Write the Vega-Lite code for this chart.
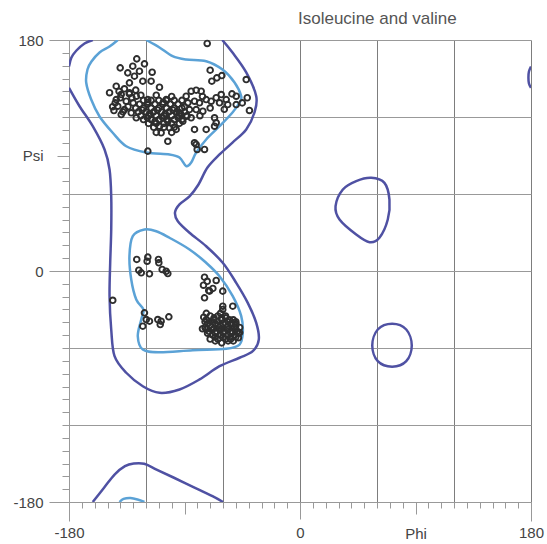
{
  "$schema": "https://vega.github.io/schema/vega-lite/v6.json",
  "autosize": {"type": "none"},
  "padding": {"left": 69, "top": 40, "right": 16, "bottom": 42},
  "width": 462,
  "height": 462,
  "background": "white",
  "title": {
    "text": "Isoleucine and valine",
    "anchor": "start",
    "frame": "group",
    "dx": 229,
    "offset": 5,
    "font": "Liberation Sans",
    "fontSize": 17,
    "fontWeight": "normal",
    "color": "#555555"
  },
  "config": {
    "view": {"stroke": null},
    "axis": {
      "labelFont": "Liberation Sans",
      "labelFontSize": 15,
      "labelColor": "#444444",
      "labelOverlap": false,
      "labelFlush": false,
      "labelBound": false,
      "domainColor": "#999999",
      "tickColor": "#999999",
      "gridWidth": 1,
      "title": null
    }
  },
  "datasets": {
    "paths": [
      {"seg": "A", "i": 0, "phi": -180, "psi": 142.7, "lvl": "outer"},
      {"seg": "A", "i": 1, "phi": -171.8, "psi": 128.4, "lvl": "outer"},
      {"seg": "A", "i": 2, "phi": -161.5, "psi": 112.8, "lvl": "outer"},
      {"seg": "A", "i": 3, "phi": -152.3, "psi": 94.7, "lvl": "outer"},
      {"seg": "A", "i": 4, "phi": -148.4, "psi": 79.1, "lvl": "outer"},
      {"seg": "A", "i": 5, "phi": -147.1, "psi": 58.3, "lvl": "outer"},
      {"seg": "A", "i": 6, "phi": -147.1, "psi": 32.3, "lvl": "outer"},
      {"seg": "A", "i": 7, "phi": -147.9, "psi": 6.4, "lvl": "outer"},
      {"seg": "A", "i": 8, "phi": -148.4, "psi": -19.6, "lvl": "outer"},
      {"seg": "A", "i": 9, "phi": -147.1, "psi": -45.6, "lvl": "outer"},
      {"seg": "A", "i": 10, "phi": -144.5, "psi": -66.4, "lvl": "outer"},
      {"seg": "A", "i": 11, "phi": -135.4, "psi": -79.3, "lvl": "outer"},
      {"seg": "A", "i": 12, "phi": -122.5, "psi": -89.8, "lvl": "outer"},
      {"seg": "A", "i": 13, "phi": -109.5, "psi": -94.9, "lvl": "outer"},
      {"seg": "A", "i": 14, "phi": -93.9, "psi": -92.3, "lvl": "outer"},
      {"seg": "A", "i": 15, "phi": -78.3, "psi": -84.5, "lvl": "outer"},
      {"seg": "A", "i": 16, "phi": -62.7, "psi": -74.2, "lvl": "outer"},
      {"seg": "A", "i": 17, "phi": -47.1, "psi": -67.6, "lvl": "outer"},
      {"seg": "A", "i": 18, "phi": -36.8, "psi": -62.5, "lvl": "outer"},
      {"seg": "A", "i": 19, "phi": -32.1, "psi": -53.4, "lvl": "outer"},
      {"seg": "A", "i": 20, "phi": -34.1, "psi": -40.4, "lvl": "outer"},
      {"seg": "A", "i": 21, "phi": -40.7, "psi": -24.8, "lvl": "outer"},
      {"seg": "A", "i": 22, "phi": -49.7, "psi": -9.2, "lvl": "outer"},
      {"seg": "A", "i": 23, "phi": -60.2, "psi": 6.4, "lvl": "outer"},
      {"seg": "A", "i": 24, "phi": -73.1, "psi": 19.3, "lvl": "outer"},
      {"seg": "A", "i": 25, "phi": -86.1, "psi": 29.8, "lvl": "outer"},
      {"seg": "A", "i": 26, "phi": -95.2, "psi": 38.8, "lvl": "outer"},
      {"seg": "A", "i": 27, "phi": -97.4, "psi": 45.6, "lvl": "outer"},
      {"seg": "A", "i": 28, "phi": -93.9, "psi": 51.9, "lvl": "outer"},
      {"seg": "A", "i": 29, "phi": -86.1, "psi": 58.1, "lvl": "outer"},
      {"seg": "A", "i": 30, "phi": -79.1, "psi": 67.4, "lvl": "outer"},
      {"seg": "A", "i": 31, "phi": -72.1, "psi": 80.6, "lvl": "outer"},
      {"seg": "A", "i": 32, "phi": -62.7, "psi": 90.8, "lvl": "outer"},
      {"seg": "A", "i": 33, "phi": -52.6, "psi": 100.1, "lvl": "outer"},
      {"seg": "A", "i": 34, "phi": -41.9, "psi": 110.3, "lvl": "outer"},
      {"seg": "A", "i": 35, "phi": -35.5, "psi": 123.5, "lvl": "outer"},
      {"seg": "A", "i": 36, "phi": -34.1, "psi": 136.2, "lvl": "outer"},
      {"seg": "A", "i": 37, "phi": -41.9, "psi": 154.7, "lvl": "outer"},
      {"seg": "A", "i": 38, "phi": -52.6, "psi": 170.2, "lvl": "outer"},
      {"seg": "A", "i": 39, "phi": -60.6, "psi": 180, "lvl": "outer"},
      {"seg": "B", "i": 0, "phi": -161.5, "psi": -180, "lvl": "outer"},
      {"seg": "B", "i": 1, "phi": -152.7, "psi": -168.9, "lvl": "outer"},
      {"seg": "B", "i": 2, "phi": -144.5, "psi": -158.6, "lvl": "outer"},
      {"seg": "B", "i": 3, "phi": -136.4, "psi": -152.1, "lvl": "outer"},
      {"seg": "B", "i": 4, "phi": -129.5, "psi": -150, "lvl": "outer"},
      {"seg": "B", "i": 5, "phi": -121.4, "psi": -150.2, "lvl": "outer"},
      {"seg": "B", "i": 6, "phi": -111.8, "psi": -154.7, "lvl": "outer"},
      {"seg": "B", "i": 7, "phi": -98.2, "psi": -161.1, "lvl": "outer"},
      {"seg": "B", "i": 8, "phi": -81.8, "psi": -168.9, "lvl": "outer"},
      {"seg": "B", "i": 9, "phi": -68.2, "psi": -175.5, "lvl": "outer"},
      {"seg": "B", "i": 10, "phi": -60, "psi": -180, "lvl": "outer"},
      {"seg": "C", "i": 0, "phi": -161.4, "psi": 180, "lvl": "outer"},
      {"seg": "C", "i": 1, "phi": -167.9, "psi": 177.3, "lvl": "outer"},
      {"seg": "C", "i": 2, "phi": -174.2, "psi": 171.8, "lvl": "outer"},
      {"seg": "C", "i": 3, "phi": -178.1, "psi": 166.3, "lvl": "outer"},
      {"seg": "C", "i": 4, "phi": -180, "psi": 159.3, "lvl": "outer"},
      {"seg": "D", "i": 0, "phi": 180, "psi": 159.3, "lvl": "outer"},
      {"seg": "D", "i": 1, "phi": 178.4, "psi": 155.4, "lvl": "outer"},
      {"seg": "D", "i": 2, "phi": 178, "psi": 150.8, "lvl": "outer"},
      {"seg": "D", "i": 3, "phi": 178.4, "psi": 146.1, "lvl": "outer"},
      {"seg": "D", "i": 4, "phi": 180, "psi": 142.7, "lvl": "outer"},
      {"seg": "E", "i": 0, "phi": -142, "psi": 180, "lvl": "inner"},
      {"seg": "E", "i": 1, "phi": -148.4, "psi": 174.9, "lvl": "inner"},
      {"seg": "E", "i": 2, "phi": -156.2, "psi": 170.3, "lvl": "inner"},
      {"seg": "E", "i": 3, "phi": -162.5, "psi": 163.2, "lvl": "inner"},
      {"seg": "E", "i": 4, "phi": -165.6, "psi": 157, "lvl": "inner"},
      {"seg": "E", "i": 5, "phi": -166.6, "psi": 146.9, "lvl": "inner"},
      {"seg": "E", "i": 6, "phi": -162.7, "psi": 133.6, "lvl": "inner"},
      {"seg": "E", "i": 7, "phi": -156.2, "psi": 120.4, "lvl": "inner"},
      {"seg": "E", "i": 8, "phi": -146.1, "psi": 107.9, "lvl": "inner"},
      {"seg": "E", "i": 9, "phi": -135.4, "psi": 97.2, "lvl": "inner"},
      {"seg": "E", "i": 10, "phi": -119.8, "psi": 92.3, "lvl": "inner"},
      {"seg": "E", "i": 11, "phi": -101.7, "psi": 90.8, "lvl": "inner"},
      {"seg": "E", "i": 12, "phi": -93.9, "psi": 88.4, "lvl": "inner"},
      {"seg": "E", "i": 13, "phi": -88.7, "psi": 81.7, "lvl": "inner"},
      {"seg": "E", "i": 14, "phi": -84.8, "psi": 84.5, "lvl": "inner"},
      {"seg": "E", "i": 15, "phi": -80.9, "psi": 92.3, "lvl": "inner"},
      {"seg": "E", "i": 16, "phi": -73.1, "psi": 102.5, "lvl": "inner"},
      {"seg": "E", "i": 17, "phi": -62.7, "psi": 112.8, "lvl": "inner"},
      {"seg": "E", "i": 18, "phi": -52.6, "psi": 123.5, "lvl": "inner"},
      {"seg": "E", "i": 19, "phi": -47.1, "psi": 131.3, "lvl": "inner"},
      {"seg": "E", "i": 20, "phi": -45.8, "psi": 136.2, "lvl": "inner"},
      {"seg": "E", "i": 21, "phi": -51, "psi": 146.9, "lvl": "inner"},
      {"seg": "E", "i": 22, "phi": -60.4, "psi": 157, "lvl": "inner"},
      {"seg": "E", "i": 23, "phi": -73.1, "psi": 163.5, "lvl": "inner"},
      {"seg": "E", "i": 24, "phi": -88.7, "psi": 164.8, "lvl": "inner"},
      {"seg": "E", "i": 25, "phi": -99.3, "psi": 167.4, "lvl": "inner"},
      {"seg": "E", "i": 26, "phi": -109.5, "psi": 174.2, "lvl": "inner"},
      {"seg": "E", "i": 27, "phi": -119.8, "psi": 180, "lvl": "inner"},
      {"seg": "F", "i": 0, "phi": -140.6, "psi": -180, "lvl": "inner"},
      {"seg": "F", "i": 1, "phi": -137.5, "psi": -177.6, "lvl": "inner"},
      {"seg": "F", "i": 2, "phi": -132.1, "psi": -176.9, "lvl": "inner"},
      {"seg": "F", "i": 3, "phi": -126.6, "psi": -178, "lvl": "inner"},
      {"seg": "F", "i": 4, "phi": -121.2, "psi": -180, "lvl": "inner"}
    ],
    "loops": [
      {"seg": "G", "i": 0, "phi": -121.2, "psi": 32.3, "lvl": "inner"},
      {"seg": "G", "i": 1, "phi": -130.3, "psi": 27.1, "lvl": "inner"},
      {"seg": "G", "i": 2, "phi": -132.9, "psi": 11.5, "lvl": "inner"},
      {"seg": "G", "i": 3, "phi": -131.5, "psi": -6.6, "lvl": "inner"},
      {"seg": "G", "i": 4, "phi": -127.6, "psi": -22.2, "lvl": "inner"},
      {"seg": "G", "i": 5, "phi": -122, "psi": -30, "lvl": "inner"},
      {"seg": "G", "i": 6, "phi": -123.7, "psi": -37.8, "lvl": "inner"},
      {"seg": "G", "i": 7, "phi": -126.4, "psi": -50.8, "lvl": "inner"},
      {"seg": "G", "i": 8, "phi": -122.5, "psi": -61.2, "lvl": "inner"},
      {"seg": "G", "i": 9, "phi": -109.5, "psi": -63.3, "lvl": "inner"},
      {"seg": "G", "i": 10, "phi": -83.5, "psi": -61.7, "lvl": "inner"},
      {"seg": "G", "i": 11, "phi": -57.5, "psi": -60.6, "lvl": "inner"},
      {"seg": "G", "i": 12, "phi": -47.1, "psi": -57.3, "lvl": "inner"},
      {"seg": "G", "i": 13, "phi": -44.6, "psi": -48.2, "lvl": "inner"},
      {"seg": "G", "i": 14, "phi": -45.8, "psi": -35.2, "lvl": "inner"},
      {"seg": "G", "i": 15, "phi": -52.4, "psi": -19.6, "lvl": "inner"},
      {"seg": "G", "i": 16, "phi": -62.7, "psi": -4.1, "lvl": "inner"},
      {"seg": "G", "i": 17, "phi": -73.1, "psi": 6.4, "lvl": "inner"},
      {"seg": "G", "i": 18, "phi": -86.1, "psi": 16.8, "lvl": "inner"},
      {"seg": "G", "i": 19, "phi": -101.7, "psi": 25.9, "lvl": "inner"},
      {"seg": "G", "i": 20, "phi": -112, "psi": 31, "lvl": "inner"},
      {"seg": "H", "i": 0, "phi": 55.5, "psi": 72.6, "lvl": "outer"},
      {"seg": "H", "i": 1, "phi": 65.8, "psi": 68.7, "lvl": "outer"},
      {"seg": "H", "i": 2, "phi": 69.7, "psi": 55.7, "lvl": "outer"},
      {"seg": "H", "i": 3, "phi": 68.4, "psi": 40.1, "lvl": "outer"},
      {"seg": "H", "i": 4, "phi": 61.9, "psi": 25.9, "lvl": "outer"},
      {"seg": "H", "i": 5, "phi": 54.2, "psi": 22.4, "lvl": "outer"},
      {"seg": "H", "i": 6, "phi": 43.8, "psi": 28.4, "lvl": "outer"},
      {"seg": "H", "i": 7, "phi": 30.8, "psi": 40.1, "lvl": "outer"},
      {"seg": "H", "i": 8, "phi": 27.7, "psi": 50.5, "lvl": "outer"},
      {"seg": "H", "i": 9, "phi": 33.4, "psi": 63.5, "lvl": "outer"},
      {"seg": "H", "i": 10, "phi": 43.8, "psi": 70, "lvl": "outer"},
      {"seg": "I", "i": 0, "phi": 71.8, "psi": -41.1, "lvl": "outer"},
      {"seg": "I", "i": 1, "phi": 82.8, "psi": -45.6, "lvl": "outer"},
      {"seg": "I", "i": 2, "phi": 87.1, "psi": -58, "lvl": "outer"},
      {"seg": "I", "i": 3, "phi": 82.8, "psi": -70.3, "lvl": "outer"},
      {"seg": "I", "i": 4, "phi": 71.8, "psi": -74.6, "lvl": "outer"},
      {"seg": "I", "i": 5, "phi": 60.6, "psi": -70.3, "lvl": "outer"},
      {"seg": "I", "i": 6, "phi": 56.3, "psi": -58, "lvl": "outer"},
      {"seg": "I", "i": 7, "phi": 60.6, "psi": -45.6, "lvl": "outer"}
    ],
    "residues": [
      {"phi": -72.3, "psi": 177.3}, {"phi": -127.2, "psi": 165.3}, {"phi": -121.2, "psi": 161.4}, {"phi": -140.1, "psi": 158.3},
      {"phi": -130.3, "psi": 159.6}, {"phi": -125.1, "psi": 155.7}, {"phi": -115.2, "psi": 154.9}, {"phi": -134.2, "psi": 154.4},
      {"phi": -129, "psi": 151.8}, {"phi": -122.5, "psi": 147.9}, {"phi": -116, "psi": 147.9}, {"phi": -132.9, "psi": 146.6},
      {"phi": -109.5, "psi": 143.2}, {"phi": -143.2, "psi": 144}, {"phi": -136.8, "psi": 142}, {"phi": -148.4, "psi": 138.9},
      {"phi": -139.3, "psi": 137.5}, {"phi": -132.9, "psi": 138.9}, {"phi": -127.6, "psi": 136.2}, {"phi": -143.2, "psi": 133.6},
      {"phi": -135.4, "psi": 132.3}, {"phi": -142, "psi": 128.4}, {"phi": -136.8, "psi": 125.8}, {"phi": -139.3, "psi": 121.9},
      {"phi": -131.5, "psi": 123.3}, {"phi": -127.6, "psi": 119.4}, {"phi": -104.3, "psi": 133.6}, {"phi": -118.6, "psi": 133.6},
      {"phi": -109.5, "psi": 112.8}, {"phi": -101.7, "psi": 111.6}, {"phi": -96.5, "psi": 110.3}, {"phi": -108.2, "psi": 107.7},
      {"phi": -103, "psi": 101.1}, {"phi": -118.6, "psi": 93.4}, {"phi": -88.7, "psi": 136.2}, {"phi": -84.8, "psi": 140.1},
      {"phi": -80.9, "psi": 140.9}, {"phi": -77, "psi": 140.1}, {"phi": -87.4, "psi": 131.1}, {"phi": -82.2, "psi": 132.3},
      {"phi": -78.3, "psi": 131.1}, {"phi": -73.1, "psi": 133.6}, {"phi": -69.2, "psi": 132.3}, {"phi": -65.3, "psi": 135},
      {"phi": -61.4, "psi": 137.5}, {"phi": -57.5, "psi": 133.6}, {"phi": -62.7, "psi": 131.1}, {"phi": -56.3, "psi": 129.7},
      {"phi": -49.7, "psi": 136.2}, {"phi": -49.7, "psi": 129.7}, {"phi": -41.1, "psi": 135}, {"phi": -39.4, "psi": 125.1},
      {"phi": -41.9, "psi": 149.2}, {"phi": -70, "psi": 156.5}, {"phi": -68.7, "psi": 147.9}, {"phi": -64.8, "psi": 150.5},
      {"phi": -60.9, "psi": 152.3}, {"phi": -86.1, "psi": 125.8}, {"phi": -80.9, "psi": 125.8}, {"phi": -84.8, "psi": 119.4},
      {"phi": -75.7, "psi": 124.5}, {"phi": -66.6, "psi": 119.4}, {"phi": -73.1, "psi": 110.3}, {"phi": -82.2, "psi": 110.3},
      {"phi": -66.6, "psi": 112.8}, {"phi": -65.3, "psi": 115.5}, {"phi": -82.2, "psi": 99.9}, {"phi": -80.9, "psi": 98.6},
      {"phi": -80.1, "psi": 94.7}, {"phi": -74.4, "psi": 94.7}, {"phi": -88.7, "psi": 120.6}, {"phi": -93.9, "psi": 123.3},
      {"phi": -91.3, "psi": 116.7},
      {"phi": -122, "psi": 133}, {"phi": -116, "psi": 133}, {"phi": -110, "psi": 133}, {"phi": -104, "psi": 133}, {"phi": -98, "psi": 133},
      {"phi": -125, "psi": 130}, {"phi": -119, "psi": 130}, {"phi": -113, "psi": 130}, {"phi": -107, "psi": 130}, {"phi": -101, "psi": 130}, {"phi": -95, "psi": 130},
      {"phi": -128, "psi": 127}, {"phi": -122, "psi": 127}, {"phi": -116, "psi": 127}, {"phi": -110, "psi": 127}, {"phi": -104, "psi": 127}, {"phi": -98, "psi": 127}, {"phi": -92, "psi": 127},
      {"phi": -126, "psi": 124}, {"phi": -120, "psi": 124}, {"phi": -114, "psi": 124}, {"phi": -108, "psi": 124}, {"phi": -102, "psi": 124}, {"phi": -96, "psi": 124}, {"phi": -90, "psi": 124},
      {"phi": -124, "psi": 121}, {"phi": -118, "psi": 121}, {"phi": -112, "psi": 121}, {"phi": -106, "psi": 121}, {"phi": -100, "psi": 121}, {"phi": -94, "psi": 121}, {"phi": -88, "psi": 121},
      {"phi": -122, "psi": 118}, {"phi": -116, "psi": 118}, {"phi": -110, "psi": 118}, {"phi": -104, "psi": 118}, {"phi": -98, "psi": 118}, {"phi": -92, "psi": 118},
      {"phi": -118, "psi": 115}, {"phi": -112, "psi": 115}, {"phi": -106, "psi": 115}, {"phi": -100, "psi": 115}, {"phi": -94, "psi": 115},
      {"phi": -114, "psi": 112}, {"phi": -106, "psi": 112}, {"phi": -98, "psi": 112}, {"phi": -112, "psi": 108}, {"phi": -100, "psi": 108},
      {"phi": -118.5, "psi": 131.5}, {"phi": -106.5, "psi": 131.5}, {"phi": -123, "psi": 125.5}, {"phi": -111, "psi": 125.5}, {"phi": -99, "psi": 125.5},
      {"phi": -119, "psi": 119.5}, {"phi": -107, "psi": 119.5}, {"phi": -95, "psi": 119.5}, {"phi": -117, "psi": 122.5}, {"phi": -105, "psi": 122.5},
      {"phi": -93, "psi": 122.5}, {"phi": -113, "psi": 116.5}, {"phi": -103, "psi": 116.5},
      {"phi": -144, "psi": 131}, {"phi": -140, "psi": 135}, {"phi": -134, "psi": 128}, {"phi": -130, "psi": 131}, {"phi": -145, "psi": 125},
      {"phi": -138, "psi": 124}, {"phi": -133, "psi": 138}, {"phi": -128, "psi": 141},
      {"phi": -127.2, "psi": 9}, {"phi": -118.6, "psi": 10.8}, {"phi": -119.1, "psi": 7.6}, {"phi": -110.3, "psi": 9}, {"phi": -110, "psi": 6.4},
      {"phi": -125.6, "psi": 0.6}, {"phi": -123.7, "psi": -1.4}, {"phi": -117.3, "psi": -2.2}, {"phi": -107.4, "psi": 1.2}, {"phi": -104.3, "psi": -0.2},
      {"phi": -103, "psi": -2}, {"phi": -145.9, "psi": -22.8}, {"phi": -121.2, "psi": -32.6}, {"phi": -119.8, "psi": -37.8}, {"phi": -117.3, "psi": -39.1},
      {"phi": -122.5, "psi": -43}, {"phi": -110.8, "psi": -37.8}, {"phi": -108.2, "psi": -39.1}, {"phi": -108.9, "psi": -41.7}, {"phi": -102.2, "psi": -35.7},
      {"phi": -74.4, "psi": -4.8}, {"phi": -65.3, "psi": -7.4}, {"phi": -75.2, "psi": -11.1}, {"phi": -71.1, "psi": -15.2}, {"phi": -67.9, "psi": -13.6},
      {"phi": -74.4, "psi": -20.9}, {"phi": -60.2, "psi": -15.7}, {"phi": -60.2, "psi": -27.4}, {"phi": -52.4, "psi": -27.4}, {"phi": -60.2, "psi": -30},
      {"phi": -72.3, "psi": -8}, {"phi": -70.5, "psi": -15.7},
      {"phi": -70, "psi": -35}, {"phi": -64, "psi": -35}, {"phi": -58, "psi": -35},
      {"phi": -73, "psi": -38}, {"phi": -67, "psi": -38}, {"phi": -61, "psi": -38}, {"phi": -55, "psi": -38},
      {"phi": -72, "psi": -41}, {"phi": -66, "psi": -41}, {"phi": -60, "psi": -41}, {"phi": -54, "psi": -41}, {"phi": -50, "psi": -41},
      {"phi": -74, "psi": -44}, {"phi": -69, "psi": -44}, {"phi": -63, "psi": -44}, {"phi": -57, "psi": -44}, {"phi": -51, "psi": -44},
      {"phi": -71, "psi": -47}, {"phi": -65, "psi": -47}, {"phi": -59, "psi": -47}, {"phi": -53, "psi": -47}, {"phi": -49, "psi": -47},
      {"phi": -68, "psi": -50}, {"phi": -62, "psi": -50}, {"phi": -56, "psi": -50}, {"phi": -51, "psi": -50},
      {"phi": -64, "psi": -53}, {"phi": -58, "psi": -53}, {"phi": -54, "psi": -53},
      {"phi": -68, "psi": -39.5}, {"phi": -62, "psi": -42.5}, {"phi": -56, "psi": -45.5}, {"phi": -66, "psi": -48.5}, {"phi": -60, "psi": -51.5},
      {"phi": -58, "psi": -36.5}, {"phi": -52, "psi": -38}, {"phi": -75, "psi": -36}, {"phi": -76, "psi": -45}, {"phi": -48, "psi": -52},
      {"phi": -47, "psi": -44}, {"phi": -61, "psi": -56}, {"phi": -70, "psi": -53},
      {"phi": -67, "psi": -36.5}, {"phi": -61, "psi": -36.5}, {"phi": -74, "psi": -39.5}, {"phi": -56, "psi": -39.5}, {"phi": -50, "psi": -39.5},
      {"phi": -70, "psi": -42.5}, {"phi": -64, "psi": -42.5}, {"phi": -56, "psi": -42.5}, {"phi": -50, "psi": -42.5}, {"phi": -47, "psi": -48},
      {"phi": -73, "psi": -45.5}, {"phi": -68, "psi": -45.5}, {"phi": -62, "psi": -45.5}, {"phi": -50, "psi": -45.5},
      {"phi": -72, "psi": -48.5}, {"phi": -60, "psi": -48.5}, {"phi": -54, "psi": -48.5}, {"phi": -48, "psi": -48.5},
      {"phi": -66, "psi": -51.5}, {"phi": -54, "psi": -51.5}, {"phi": -50, "psi": -51.5},
      {"phi": -66, "psi": -54.5}, {"phi": -56, "psi": -54.5}, {"phi": -52, "psi": -54.5}, {"phi": -73, "psi": -33}, {"phi": -62, "psi": -33},
      {"phi": -146, "psi": 128}, {"phi": -141, "psi": 140}, {"phi": -131, "psi": 135}, {"phi": -124, "psi": 137}, {"phi": -112, "psi": 137},
      {"phi": -100, "psi": 136}, {"phi": -92, "psi": 133}, {"phi": -90, "psi": 128}, {"phi": -78, "psi": 121}, {"phi": -70, "psi": 127},
      {"phi": -76, "psi": 136}, {"phi": -59, "psi": 126}, {"phi": -53, "psi": 138}, {"phi": -45, "psi": 131}
    ]
  },
  "encoding": {
    "x": {
      "field": "phi",
      "type": "quantitative",
      "scale": {"domain": [-180, 180], "nice": false, "zero": false},
      "axis": {
        "orient": "bottom",
        "values": [-180, -170, -160, -150, -140, -130, -120, -110, -100, -90, -80, -70, -60, -50, -40, -30, -20, -10, 0, 10, 20, 30, 40, 50, 60, 70, 80, 90, 100, 110, 120, 130, 140, 150, 160, 170, 180],
        "grid": true,
        "gridColor": "#7d7d7d",
        "gridOpacity": {"condition": {"test": "datum.value % 60 === 0", "value": 1}, "value": 0},
        "tickSize": {"condition": [{"test": "abs(datum.value) === 180", "value": 19}, {"test": "datum.value === 0", "value": 17}, {"test": "abs(datum.value) === 90", "value": 12}], "value": 6},
        "labelPadding": {"condition": [{"test": "datum.value === 0", "value": 6}, {"test": "datum.value === 90", "value": 12}], "value": 4},
        "labelExpr": "datum.value === -180 ? '-180' : datum.value === 0 ? '0' : datum.value === 90 ? 'Phi' : datum.value === 180 ? '180' : ''"
      }
    },
    "y": {
      "field": "psi",
      "type": "quantitative",
      "scale": {"domain": [-180, 180], "nice": false, "zero": false},
      "axis": {
        "orient": "left",
        "values": [-180, -170, -160, -150, -140, -130, -120, -110, -100, -90, -80, -70, -60, -50, -40, -30, -20, -10, 0, 10, 20, 30, 40, 50, 60, 70, 80, 90, 100, 110, 120, 130, 140, 150, 160, 170, 180],
        "grid": true,
        "gridColor": "#999999",
        "gridOpacity": {"condition": {"test": "datum.value % 60 === 0", "value": 1}, "value": 0},
        "tickSize": {"condition": [{"test": "abs(datum.value) === 180 || datum.value === 0", "value": 20}, {"test": "datum.value === 90", "value": 12}], "value": 7},
        "labelPadding": {"condition": {"test": "datum.value === 90", "value": 14}, "value": 6},
        "labelExpr": "datum.value === 180 ? '180' : datum.value === 90 ? 'Psi' : datum.value === 0 ? '0' : datum.value === -180 ? '-180' : ''"
      }
    }
  },
  "layer": [
    {
      "data": {"name": "paths"},
      "mark": {"type": "line", "interpolate": "cardinal", "strokeWidth": 2.5, "clip": true},
      "encoding": {
        "detail": {"field": "seg"},
        "order": {"field": "i", "type": "quantitative"},
        "color": {"field": "lvl", "type": "nominal", "scale": {"domain": ["outer", "inner"], "range": ["#4f51a3", "#5ba2d6"]}, "legend": null}
      }
    },
    {
      "data": {"name": "loops"},
      "mark": {"type": "line", "interpolate": "cardinal-closed", "strokeWidth": 2.5, "clip": true},
      "encoding": {
        "detail": {"field": "seg"},
        "order": {"field": "i", "type": "quantitative"},
        "color": {"field": "lvl", "type": "nominal", "scale": {"domain": ["outer", "inner"], "range": ["#4f51a3", "#5ba2d6"]}, "legend": null}
      }
    },
    {
      "data": {"name": "residues"},
      "mark": {"type": "point", "shape": "circle", "filled": false, "size": 32, "strokeWidth": 1.9, "color": "#2e2e2e", "opacity": 1}
    }
  ]
}
